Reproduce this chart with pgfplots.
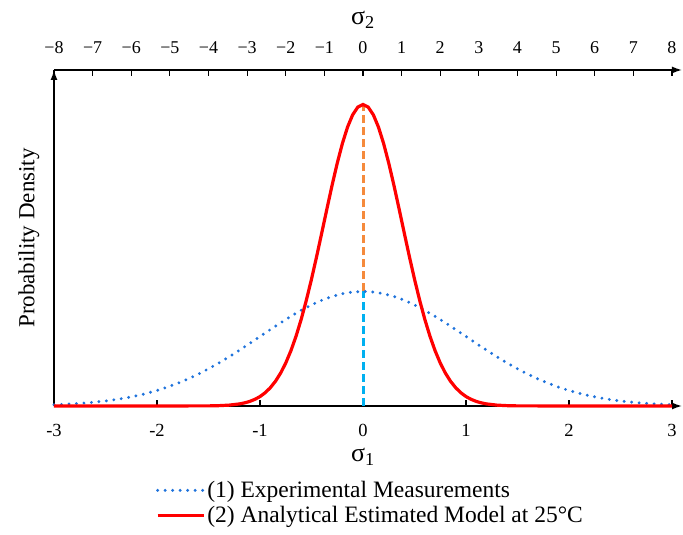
\documentclass[border=0pt]{standalone}
\usepackage{fontspec}
\setmainfont{Liberation Serif}
\usepackage{pgfplots}
\pgfplotsset{compat=1.18}
\usetikzlibrary{arrows.meta}
\definecolor{bluedot}{HTML}{1F73DC}
\definecolor{cyandash}{HTML}{00B0F0}
\definecolor{orangedash}{HTML}{F58A3C}
\begin{document}
\begin{tikzpicture}
\begin{axis}[
  at={(0pt,0pt)}, anchor=south west,
  scale only axis, width=618pt, height=336pt,
  xmin=-3, xmax=3, ymin=0, ymax=1.17,
  axis x line=bottom, axis y line=left,
  x axis line style={line width=1.4pt, -{Latex[length=10pt,width=7pt]}, shorten >=-10pt},
  y axis line style={line width=1.4pt, -{Latex[length=10pt,width=7pt]}},
  xtick={-3,-2,-1,0,1,2,3},
  xticklabels={-3,-2,-1,0,1,2,3},
  ytick=\empty,
  tick align=inside, major tick length=6pt,
  tick style={line width=1.1pt, black},
  xticklabel style={anchor=center, yshift=-24pt, font=\fontsize{18.5}{18.5}\selectfont},
  xlabel={σ\textsubscript{1}},
  xlabel style={at={(axis description cs:0.5,-0.152)}, anchor=center, font=\fontsize{26}{26}\selectfont},
  ylabel={Probability Density},
  ylabel style={at={(axis description cs:-0.0405,0.5)}, anchor=center, font=\fontsize{23}{23}\selectfont},
  clip=false,
  legend style={at={(axis description cs:0.16,-0.212)}, anchor=north west, draw=none, fill=none,
    font=\fontsize{23.5}{23.5}\selectfont, row sep=3pt, nodes={inner xsep=2pt}},
  legend cell align=left,
  legend image code/.code={\draw[#1] (0pt,0pt) -- (46pt,0pt);},
]
\addplot[cyandash, line width=3pt, dash pattern=on 8pt off 4pt, forget plot] coordinates {(0,0) (0,0.3989)};
\addplot[orangedash, line width=3pt, dash pattern=on 8pt off 4pt, forget plot] coordinates {(0,0.3989) (0,1.05)};
\addplot[bluedot, line width=3.2pt, line cap=round, dash pattern=on 0pt off 7.5pt] coordinates {
(-3.0,0.0044) (-2.9,0.0060) (-2.8,0.0079) (-2.7,0.0104) (-2.6,0.0136) (-2.5,0.0175)
(-2.4,0.0224) (-2.3,0.0283) (-2.2,0.0355) (-2.1,0.0440) (-2.0,0.0540) (-1.9,0.0656)
(-1.8,0.0790) (-1.7,0.0940) (-1.6,0.1109) (-1.5,0.1295) (-1.4,0.1497) (-1.3,0.1714)
(-1.2,0.1942) (-1.1,0.2179) (-1.0,0.2420) (-0.9,0.2661) (-0.8,0.2897) (-0.7,0.3123)
(-0.6,0.3332) (-0.5,0.3521) (-0.4,0.3683) (-0.3,0.3814) (-0.2,0.3910) (-0.1,0.3970)
(0.0,0.3989)
(0.1,0.3970) (0.2,0.3910) (0.3,0.3814) (0.4,0.3683) (0.5,0.3521) (0.6,0.3332)
(0.7,0.3123) (0.8,0.2897) (0.9,0.2661) (1.0,0.2420) (1.1,0.2179) (1.2,0.1942)
(1.3,0.1714) (1.4,0.1497) (1.5,0.1295) (1.6,0.1109) (1.7,0.0940) (1.8,0.0790)
(1.9,0.0656) (2.0,0.0540) (2.1,0.0440) (2.2,0.0355) (2.3,0.0283) (2.4,0.0224)
(2.5,0.0175) (2.6,0.0136) (2.7,0.0104) (2.8,0.0079) (2.9,0.0060) (3.0,0.0044)
};
\addlegendentry{(1) Experimental Measurements}
\addplot[red, line width=3.2pt] coordinates {
(-3.0,0) (-1.5,0.0004) (-1.4,0.0012) (-1.3,0.0030) (-1.2,0.0072) (-1.15,0.0108)
(-1.1,0.0159) (-1.05,0.0231) (-1.0,0.0329) (-0.95,0.0461) (-0.9,0.0636) (-0.85,0.0860)
(-0.8,0.1145) (-0.75,0.1497) (-0.7,0.1924) (-0.65,0.2431) (-0.6,0.3019) (-0.55,0.3684)
(-0.5,0.4418) (-0.45,0.5208) (-0.4,0.6034) (-0.35,0.6870) (-0.3,0.7689) (-0.25,0.8457)
(-0.2,0.9142) (-0.15,0.9713) (-0.1,1.0143) (-0.05,1.0410) (0,1.05)
(0.05,1.0410) (0.1,1.0143) (0.15,0.9713) (0.2,0.9142) (0.25,0.8457) (0.3,0.7689)
(0.35,0.6870) (0.4,0.6034) (0.45,0.5208) (0.5,0.4418) (0.55,0.3684) (0.6,0.3019)
(0.65,0.2431) (0.7,0.1924) (0.75,0.1497) (0.8,0.1145) (0.85,0.0860) (0.9,0.0636)
(0.95,0.0461) (1.0,0.0329) (1.05,0.0231) (1.1,0.0159) (1.15,0.0108) (1.2,0.0072)
(1.3,0.0030) (1.4,0.0012) (1.5,0.0004) (3.0,0)
};
\addlegendentry{(2) Analytical Estimated Model at 25°C}
\end{axis}
\begin{axis}[
  at={(0pt,0pt)}, anchor=south west,
  scale only axis, width=618pt, height=336pt,
  xmin=-8, xmax=8, ymin=0, ymax=1.17,
  axis x line=top, axis y line=none,
  x axis line style={line width=1.4pt, -{Latex[length=10pt,width=7pt]}, shorten >=-10pt},
  xtick={-8,-7,...,8},
  xticklabels={−8,−7,−6,−5,−4,−3,−2,−1,0,1,2,3,4,5,6,7,8},
  ytick=\empty,
  tick align=inside, major tick length=6pt,
  tick style={line width=1.1pt, black},
  xticklabel style={anchor=center, yshift=22pt, font=\fontsize{18}{18}\selectfont},
  xlabel={σ\textsubscript{2}},
  xlabel style={at={(axis description cs:0.5,1.149)}, anchor=center, font=\fontsize{26}{26}\selectfont},
  clip=false,
]
\addplot[draw=none, forget plot] coordinates {(-8,0) (8,0)};
\end{axis}
\pgfresetboundingbox
\useasboundingbox (-54pt,-129pt) rectangle (629pt,406pt);
\end{tikzpicture}
\end{document}
